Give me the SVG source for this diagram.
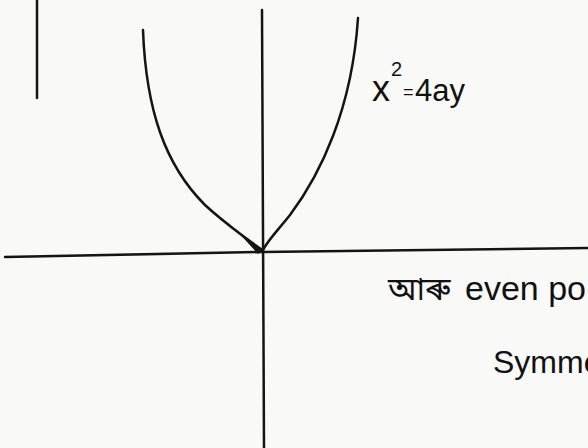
<svg xmlns="http://www.w3.org/2000/svg" width="588" height="448" viewBox="0 0 588 448">
<style>
.ln{fill:none;stroke:#141414;stroke-linecap:round;stroke-linejoin:round}
.t{fill:#111;font-family:"Liberation Sans","Noto Sans","Noto Sans Bengali",sans-serif}
</style>
<rect width="588" height="448" fill="#f9f9f7"/>
<g id="axes">
<path class="ln" stroke-width="2.5" d="M37 0 L37 98"/>
<path class="ln" stroke-width="2.5" d="M262 10 L264 448"/>
<path class="ln" stroke-width="2.5" d="M5 257 L262 252 L588 248"/>
</g>
<g id="parabola">
<path class="ln" stroke-width="2.5" d="M143 30 C146 110 165 165 205 205 C230 228 250 240 263 252"/>
<path class="ln" stroke-width="2.5" d="M358 18 C352 110 320 175 290 215 C278 230 268 240 263 250"/>
<path fill="#141414" d="M236 230 L263 249 L258 254 Z"/>
</g>
<g id="labels">
<text class="t" x="372" y="101" font-size="36">x</text>
<text class="t" x="391" y="76" font-size="20">2</text>
<text class="t" x="403" y="98" font-size="18">=</text>
<text class="t" x="415" y="101" font-size="31">4ay</text>
<text class="t" x="388" y="300" font-size="32">আৰু</text>
<text class="t" x="465" y="300" font-size="34">even po</text>
<text class="t" x="493" y="373" font-size="32">Symme</text>
</g>
</svg>
